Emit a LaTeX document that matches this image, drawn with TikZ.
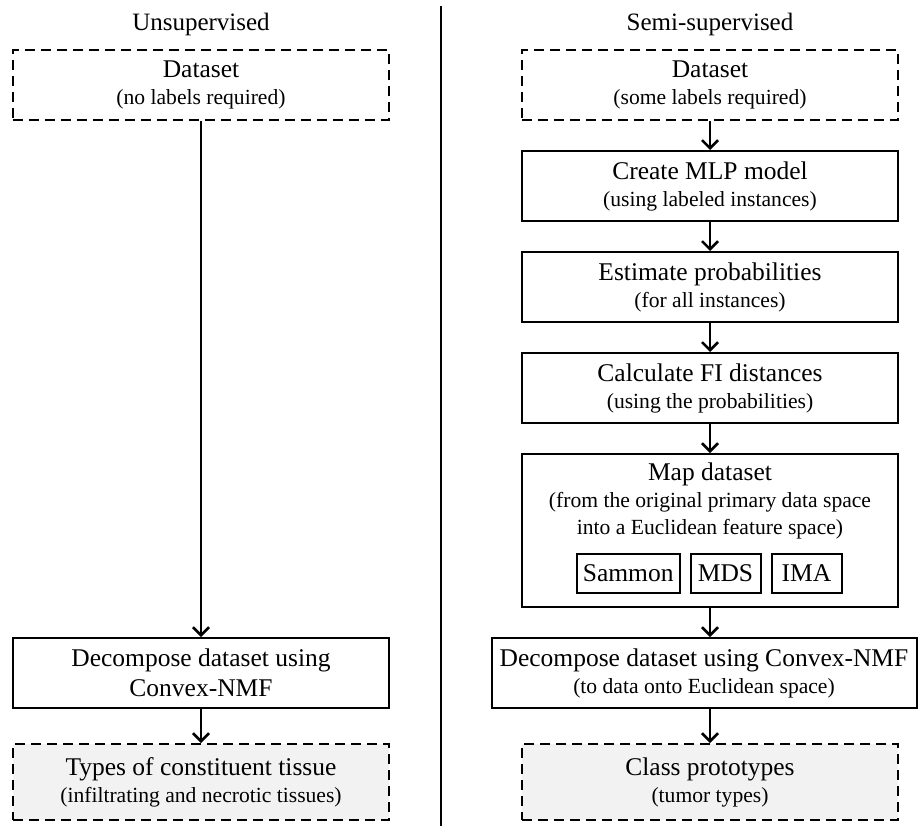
\documentclass[tikz,border=0pt]{standalone}
\usepackage{fontspec}
\setmainfont{Liberation Serif}
\usetikzlibrary{positioning,arrows.meta,calc}
\usepackage{xcolor}
\definecolor{shade}{HTML}{F2F2F2}
\newcommand{\subtxt}[1]{{\fontsize{10.8}{13.5}\selectfont #1}}

\begin{document}
\begin{tikzpicture}[line width=1pt, >={Straight Barb[length=4pt,width=8pt,line width=1.3pt]}]
      \tikzstyle{obj}=[draw, rectangle, align=center, minimum width=188pt, minimum height=35pt, font=\fontsize{12.75}{13.5}\selectfont];
      \tikzstyle{ends}=[obj, dash pattern=on 5pt off 3pt];
      \tikzstyle{sub}=[draw, rectangle, inner xsep=3pt, minimum width=35pt, minimum height=19.5pt, font=\fontsize{12.75}{15}\selectfont];
      \tikzstyle{head}=[font=\fontsize{12.5}{15}\selectfont];

      \useasboundingbox (-100.5pt,42.5pt) rectangle (359pt,-370.5pt);

      \node (dset1) at (0,0)[ends]{Dataset\\\subtxt{(no labels required)}};
      \node (dset2) [right=65.5pt of dset1, ends]{Dataset\\\subtxt{(some labels required)}};
      \node (head1) [above=3pt of dset1, head]{Unsupervised};
      \node (head2) [above=3pt of dset2, head]{Semi-supervised};

      \node (mlp) [below=14.5pt of dset2, obj]{Create MLP model\\\subtxt{(using labeled instances)}};
      \node (prob) [below=14.5pt of mlp, obj]{Estimate probabilities\\\subtxt{(for all instances)}};
      \node (fid) [below=14.5pt of prob, obj]{Calculate FI distances\\\subtxt{(using the probabilities)}};
      \node (map) [below=14.5pt of fid, obj, minimum height=76.5pt]{};
      \node (maptxt) [below=1pt of map.north, align=center, font=\fontsize{12.75}{13.5}\selectfont]{Map dataset\\\subtxt{(from the original primary data space}\\\subtxt{into a Euclidean feature space)}};
      \node (mds) [above=7pt of map.south, xshift=7.75pt, sub]{MDS};
      \node (sam) [left=4.5pt of mds, sub]{Sammon};
      \node (ima) [right=4.5pt of mds, sub]{IMA};
      \node (dec2) [below=14.5pt of map, xshift=-3pt, obj, minimum width=212.5pt]{Decompose dataset using Convex-NMF\\\subtxt{(to data onto Euclidean space)}};
      \node (proto) [below=17pt of dec2, xshift=3pt, ends, fill=shade, minimum height=38pt]{Class prototypes\\\subtxt{(tumor types)}};

      \node (dec1) at (dset1 |- dec2)[obj]{Decompose dataset using\\[1.5pt]Convex-NMF};
      \node (types) at (dset1 |- proto)[ends, fill=shade, minimum height=38pt]{Types of constituent tissue\\\subtxt{(infiltrating and necrotic tissues)}};

      \coordinate (divtop) at (120pt,39.5pt);
      \coordinate (divbot) at (120pt,-370.5pt);
      \draw (divtop) -- (divbot);

      \draw [->] (dset1) -- (dec1);
      \draw [->] (dec1) -- (types);

      \draw [->] (dset2) -- (mlp);
      \draw [->] (mlp) -- (prob);
      \draw [->] (prob) -- (fid);
      \draw [->] (fid) -- (map);
      \draw [->] (map) -- (map |- dec2.north);
      \draw [->] (proto |- dec2.south) -- (proto);

    \end{tikzpicture}
\end{document}
